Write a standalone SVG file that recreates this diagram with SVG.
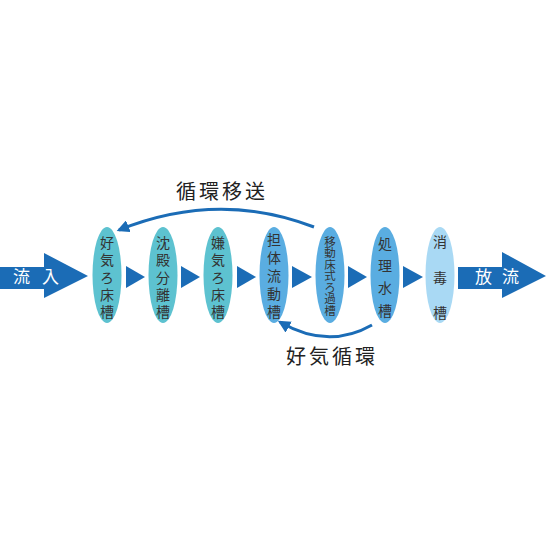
<svg xmlns="http://www.w3.org/2000/svg" width="546" height="546" viewBox="0 0 546 546">
<defs>
<style>
.t{font-family:"Noto Sans CJK JP","Noto Sans CJK SC",sans-serif;fill:#333;text-anchor:middle}
.v{writing-mode:vertical-rl;text-orientation:upright;font-size:14px}
.lbl{font-size:20px;letter-spacing:3px;fill:#222}
.big{font-family:"Noto Sans CJK JP",sans-serif;font-size:17px;fill:#fff}
.teal{fill:#5dc2d0}
.mid{fill:#5aade1}
.lt{fill:#a9d9f4}
.dk{fill:#1b6cb6}
.arc{fill:none;stroke:#1b6cb6;stroke-width:3}
</style>
<marker id="ah" viewBox="0 0 10 10" refX="8" refY="5" markerWidth="4.2" markerHeight="4.2" orient="auto-start-reverse" markerUnits="strokeWidth">
<path d="M0,0 L10,5 L0,10 z" fill="#1b6cb6"/>
</marker>
</defs>
<rect width="546" height="546" fill="#fff"/>

<g id="inflow">
<path class="dk" d="M0,267 H44 V253 L88,276 L44,298 V289 H0 z"/>
<text class="big" x="13" y="283">流</text>
<text class="big" x="42" y="283">入</text>
</g>
<g id="outflow">
<path class="dk" d="M458,267 H502 V252 L546,276 L502,298 V289 H458 z"/>
<text class="big" x="475" y="283">放</text>
<text class="big" x="502" y="283">流</text>
</g>

<g id="flow-arrows">
<path class="dk" d="M126,266 L145,277 L126,288 z"/>
<path class="dk" d="M181,266 L200,277 L181,288 z"/>
<path class="dk" d="M237,266 L256,277 L237,288 z"/>
<path class="dk" d="M292,266 L312,277 L292,288 z"/>
<path class="dk" d="M348,266 L367,277 L348,288 z"/>
<path class="dk" d="M403,266 L423,277 L403,288 z"/>
</g>

<g id="n1">
<ellipse class="teal" cx="107" cy="275" rx="14.5" ry="48"/>
<text class="t v" x="107" y="279" style="letter-spacing:3.4px">好気ろ床槽</text>
</g>
<g id="n2">
<ellipse class="teal" cx="163" cy="275" rx="14.5" ry="48"/>
<text class="t v" x="163" y="279" style="letter-spacing:3.4px">沈殿分離槽</text>
</g>
<g id="n3">
<ellipse class="teal" cx="218" cy="275" rx="14.5" ry="48"/>
<text class="t v" x="218" y="279" style="letter-spacing:3.4px">嫌気ろ床槽</text>
</g>
<g id="n4">
<ellipse class="mid" cx="274" cy="275" rx="14.5" ry="48"/>
<text class="t v" x="274" y="278" style="letter-spacing:4px">担体流動槽</text>
</g>
<g id="n5">
<ellipse class="mid" cx="330" cy="275" rx="14.5" ry="48"/>
<text class="t v" x="330" y="276" style="font-size:11.5px;letter-spacing:0">移動床式ろ過槽</text>
</g>
<g id="n6">
<ellipse class="mid" cx="385" cy="275" rx="14.5" ry="48"/>
<text class="t v" x="385" y="281" style="letter-spacing:8.3px">処理水槽</text>
</g>
<g id="n7">
<ellipse class="lt" cx="440" cy="275" rx="14.5" ry="48"/>
<text class="t v" x="440" y="288" style="letter-spacing:21.5px">消毒槽</text>
</g>

<g id="connectors">
<path class="arc" d="M314,227 Q218,190 119,230" marker-end="url(#ah)"/>
<path class="arc" d="M372,325 Q328,350 280,322" marker-end="url(#ah)"/>
</g>
<text class="t lbl" x="222" y="199">循環移送</text>
<text class="t lbl" x="332" y="364">好気循環</text>
</svg>
